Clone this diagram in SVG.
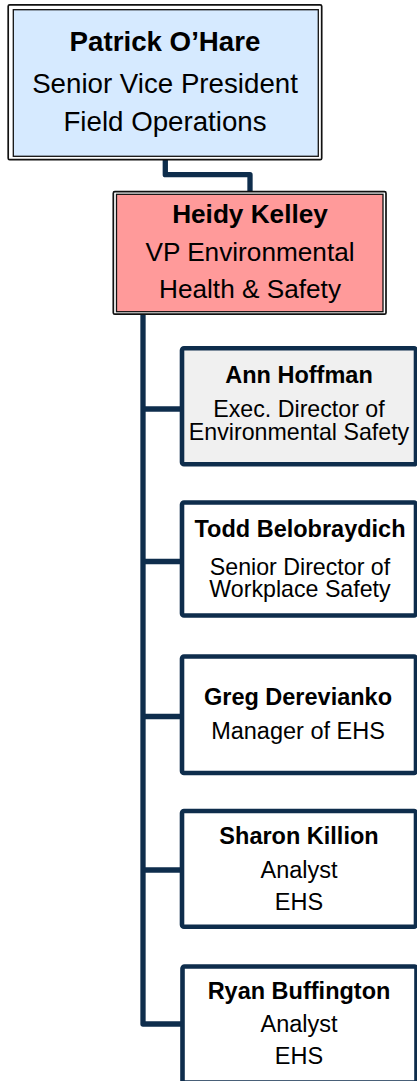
<svg xmlns="http://www.w3.org/2000/svg" width="417" height="1081" viewBox="0 0 417 1081">
<style>
.t{font-family:"Liberation Sans",Arial,sans-serif;text-anchor:middle;fill:#000}
.b{font-weight:bold}
.outer{fill:#fff;stroke:#111;stroke-width:1.7}
.inner{stroke:#111;stroke-width:1.3}
.child{fill:#fff;stroke:#0e2d4c;stroke-width:4.6}
.conn{fill:none;stroke:#0e2d4c;stroke-width:5.3;stroke-linejoin:round}
.c1{font-size:27.7px}
.c2{font-size:26.2px}
.c3{font-size:23.5px}
.c4{font-size:23.2px}
</style>
<g id="connectors">
<path class="conn" d="M165.3 158 V174.7 H250 V192"/>
<path class="conn" d="M143 313 V1024 H182"/>
<path class="conn" d="M143 409 H182"/>
<path class="conn" d="M143 561.5 H182"/>
<path class="conn" d="M143 716.5 H182"/>
<path class="conn" d="M143 870 H182"/>
</g>
<g id="patrick">
<rect class="outer" x="8.2" y="4.8" width="313.5" height="154.9" rx="1.5"/>
<rect class="inner" x="13.3" y="9.7" width="305" height="146.6" fill="#d6eaff"/>
<text class="t b c1" x="165" y="51">Patrick O’Hare</text>
<text class="t c1" x="165" y="92.5">Senior Vice President</text>
<text class="t c1" x="165" y="131">Field Operations</text>
</g>
<g id="heidy">
<rect class="outer" x="113.3" y="191.7" width="272.7" height="122.5" rx="1.5"/>
<rect class="inner" x="116.5" y="194.3" width="266.5" height="117.4" fill="#ff9a9a"/>
<text class="t b c2" x="250" y="223.3">Heidy Kelley</text>
<text class="t c2" x="250" y="260.5">VP Environmental</text>
<text class="t c2" x="250" y="298">Health &amp; Safety</text>
</g>
<g id="ann">
<rect class="child" x="182" y="348.3" width="234" height="116" rx="2" style="fill:#f0f0f0"/>
<text class="t b c3" x="299" y="383.3">Ann Hoffman</text>
<text class="t c4" x="299" y="416.5">Exec. Director of</text>
<text class="t c4" x="299" y="439.5">Environmental Safety</text>
</g>
<g id="todd">
<rect class="child" x="182" y="502.5" width="234" height="113" rx="2"/>
<text class="t b c3" x="300" y="536.7">Todd Belobraydich</text>
<text class="t c4" x="300" y="574.5">Senior Director of</text>
<text class="t c4" x="300" y="597">Workplace Safety</text>
</g>
<g id="greg">
<rect class="child" x="182" y="656.5" width="234" height="116.5" rx="2"/>
<text class="t b c3" x="298" y="705">Greg Derevianko</text>
<text class="t c3" x="298" y="738.5">Manager of EHS</text>
</g>
<g id="sharon">
<rect class="child" x="182" y="811" width="234" height="115.7" rx="2"/>
<text class="t b c3" x="299" y="843.5">Sharon Killion</text>
<text class="t c3" x="299" y="877.5">Analyst</text>
<text class="t c3" x="299" y="909.5">EHS</text>
</g>
<g id="ryan">
<rect class="child" x="182.5" y="966.5" width="234" height="116" rx="2"/>
<text class="t b c3" x="299" y="998.5">Ryan Buffington</text>
<text class="t c3" x="299" y="1032">Analyst</text>
<text class="t c3" x="299" y="1063.5">EHS</text>
</g>
</svg>
